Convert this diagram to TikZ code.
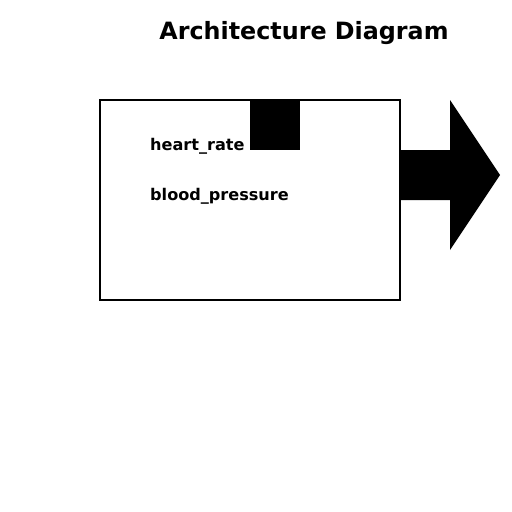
\documentclass[tikz,border=0pt]{standalone}
\usepackage{fontspec}
\setmainfont{DejaVu Sans}
\begin{document}
\begin{tikzpicture}[x=1pt,y=1pt,yscale=-1,xscale=1]
    \useasboundingbox (0,0) rectangle (512,512);
    %Shape: Rectangle [id:box]
    \draw [line width=1.5pt]  (100,100) rectangle (400,300) ;
    %Shape: Square [id:block]
    \fill [black]  (250,100) rectangle (300,150) ;
    %Shape: Right Arrow [id:flow]
    \fill [black]  (400,150) -- (450,150) -- (450,100) -- (500,175) -- (450,250) -- (450,200) -- (400,200) -- cycle ;
    % Text Node
    \draw (304,39) node [anchor=base][inner sep=0pt] (title)  {\fontsize{23.8}{28}\selectfont\bfseries Architecture Diagram};
    % Text Node
    \draw (150,150) node [anchor=base west][inner sep=0pt] (hr)  {\fontsize{16.1}{19}\selectfont\bfseries heart\_rate};
    % Text Node
    \draw (150,200) node [anchor=base west][inner sep=0pt] (bp)  {\fontsize{16.1}{19}\selectfont\bfseries blood\_pressure};
\end{tikzpicture}
\end{document}
